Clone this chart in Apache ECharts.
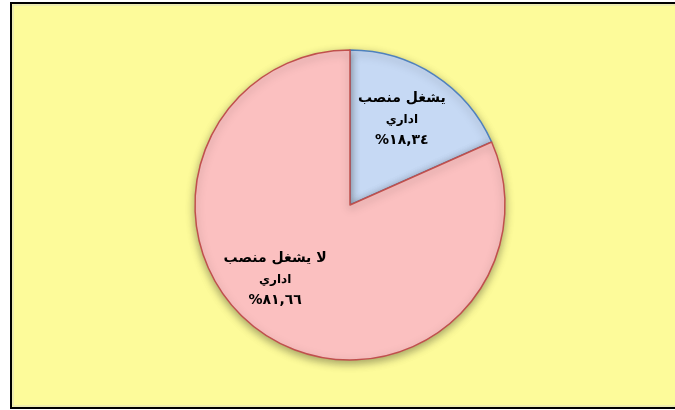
<!DOCTYPE html>
<html>
<head>
<meta charset="utf-8">
<script src="https://cdn.jsdelivr.net/npm/echarts@6/dist/echarts.min.js"></script>
<style>
  html, body { margin: 0; padding: 0; background: #ffffff; }
  #chart { width: 675px; height: 410px; }
</style>
</head>
<body>
<div id="chart"></div>
<script>
const categories = ['يشغل منصب اداري', 'لا يشغل منصب اداري'];
const values = [18.34, 81.66];
const fills = ['#c6d9f4', '#fbc0c0'];
const borders = ['#4f81bd', '#c0504d'];

const arabicDigits = ['٠', '١', '٢', '٣', '٤', '٥', '٦', '٧', '٨', '٩'];
function toArabic(v) {
  return v.toFixed(2).replace('.', ',').replace(/[0-9]/g, d => arabicDigits[+d]);
}

const chart = echarts.init(document.getElementById('chart'));

const option = {
  backgroundColor: '#ffffff',
  animation: false,
  graphic: [
    {
      type: 'rect',
      z: -10,
      shape: { x: 11, y: 3, width: 700, height: 405 },
      style: { fill: '#fdfb9a', stroke: '#000000', lineWidth: 2 }
    },
    {
      type: 'rect',
      z: -9,
      shape: { x: 13, y: 5, width: 700, height: 401 },
      style: { fill: 'none', stroke: '#dcdcc4', lineWidth: 1 }
    }
  ],
  series: [
    {
      type: 'pie',
      center: [350, 205],
      radius: [0, 155],
      startAngle: 90,
      clockwise: true,
      data: categories.map((name, i) => ({
        name: name,
        value: values[i],
        itemStyle: {
          color: fills[i],
          borderColor: borders[i],
          borderWidth: 1.5,
          shadowBlur: 8,
          shadowOffsetY: 3,
          shadowColor: 'rgba(0,0,0,0.35)'
        }
      })),
      label: {
        show: true,
        position: 'inside',
        fontFamily: 'DejaVu Sans',
        lineHeight: 21,
        formatter: function (p) {
          const words = p.name.split(' ');
          const last = words.pop();
          return '{a|' + words.join(' ') + '}\n{b|' + last + '}\n{a|%' + toArabic(p.value) + '}';
        },
        rich: {
          a: { fontSize: 14, fontWeight: 'bold', color: '#000000', fontFamily: 'DejaVu Sans', lineHeight: 21 },
          b: { fontSize: 12, fontWeight: 'bold', color: '#000000', fontFamily: 'DejaVu Sans', lineHeight: 21 }
        }
      },
      labelLine: { show: false },
      labelLayout: function (p) {
        return p.dataIndex === 0 ? { dx: 8, dy: -18 } : { dx: -31, dy: 7 };
      }
    }
  ]
};

chart.setOption(option);
</script>
</body>
</html>
